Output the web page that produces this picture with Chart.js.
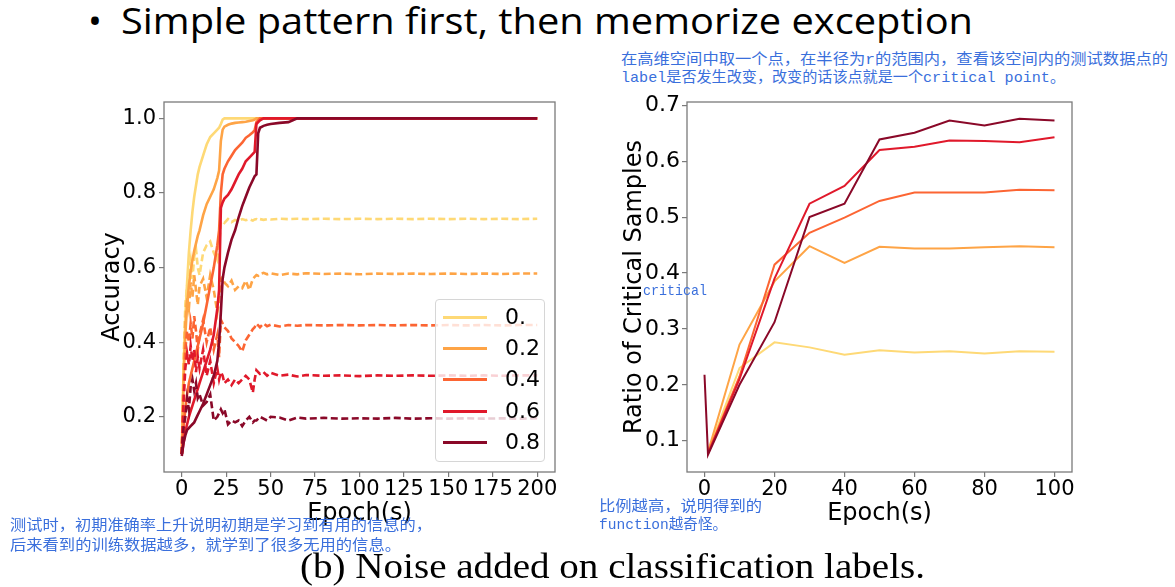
<!DOCTYPE html>
<html>
<head>
<meta charset="utf-8">
<script src="https://cdn.jsdelivr.net/npm/chart.js@4.4.0/dist/chart.umd.min.js"></script>
<style>
  body { margin: 0; width: 1175px; height: 587px; background: #fff; position: relative; overflow: hidden; }
  .t { position: absolute; white-space: nowrap; transform-origin: 0 50%; line-height: 1; }
  .head { font-family: "Open Sans", sans-serif; font-size: 37px; color: #000; }
  .cap { font-family: "Liberation Serif", serif; font-size: 36px; color: #000; }
  .note { font-family: "Liberation Mono", "Noto Sans CJK SC", monospace; font-size: 15px; color: #3a6fdc; }
  canvas { position: absolute; }
  #legend { position: absolute; left: 435px; top: 299px; width: 110px; height: 163px; box-sizing: border-box;
            border: 1px solid #d6d6d6; border-radius: 4px; background: rgba(255,255,255,0.8); }
  .lrow { position: absolute; left: 0; width: 108px; height: 30px; }
  .lline { position: absolute; left: 7px; top: 14px; width: 44px; height: 3px; }
  .ltext { position: absolute; left: 69px; top: 0; font: 22px "DejaVu Sans"; line-height: 30px; color: #000; }
</style>
</head>
<body>
<div class="t head" style="left:88px;top:1px">•</div>
<div class="t head" style="left:121px;top:1px" data-w="852">Simple pattern first, then memorize exception</div>

<div class="t note" style="left:621px;top:53px" data-w="547">在高维空间中取一个点，在半径为r的范围内，查看该空间内的测试数据点的</div>
<div class="t note" style="left:621px;top:71px" data-w="444">label是否发生改变，改变的话该点就是一个critical point。</div>

<canvas id="accChart" width="480" height="440" style="left:90px;top:92px"></canvas>
<canvas id="critChart" width="490" height="440" style="left:600px;top:92px"></canvas>
<div id="legend"></div>

<div class="t note" style="left:643px;top:284px" data-w="64">critical</div>
<div class="t note" style="left:599px;top:500px" data-w="163">比例越高，说明得到的</div>
<div class="t note" style="left:599px;top:518px" data-w="128">function越奇怪。</div>
<div class="t note" style="left:10px;top:519px" data-w="422">测试时，初期准确率上升说明初期是学习到有用的信息的，</div>
<div class="t note" style="left:10px;top:539px" data-w="391">后来看到的训练数据越多，就学到了很多无用的信息。</div>
<div class="t cap" style="left:300px;top:548px" data-w="625">(b) Noise added on classification labels.</div>

<script>
// left panel: accuracy per epoch (solid = train, dashed = test)
const accEpochs = [0,1,2,3,4,5,6,7,8,9,10,12,14,16,18,20,21,22,23,24,26,28,30,32,34,36,38,40,41,42,43,44,46,48,50,55,60,65,70,80,90,100,110,120,130,140,150,160,170,180,190,200];

const trainAcc0 = [0.10,0.33,0.47,0.56,0.64,0.70,0.75,0.79,0.82,0.85,0.87,0.90,0.93,0.95,0.96,0.97,0.975,0.985,0.997,1.0,1.0,1.0,1.0,1.0,1.0,1.0,1.0,1.0,1.0,1.0,1.0,1.0,1.0,1.0,1.0,1.0,1.0,1.0,1.0,1.0,1.0,1.0,1.0,1.0,1.0,1.0,1.0,1.0,1.0,1.0,1.0,1.0];
const trainAcc2 = [0.10,0.30,0.42,0.50,0.55,0.59,0.62,0.645,0.665,0.685,0.70,0.74,0.77,0.79,0.81,0.84,0.86,0.94,0.97,0.978,0.983,0.986,0.988,0.989,0.99,0.991,0.993,0.995,0.997,1.0,1.0,1.0,1.0,1.0,1.0,1.0,1.0,1.0,1.0,1.0,1.0,1.0,1.0,1.0,1.0,1.0,1.0,1.0,1.0,1.0,1.0,1.0];
const trainAcc4 = [0.10,0.17,0.22,0.26,0.29,0.31,0.33,0.35,0.37,0.39,0.41,0.45,0.50,0.55,0.60,0.66,0.70,0.80,0.85,0.865,0.885,0.90,0.915,0.925,0.935,0.948,0.955,0.963,0.968,0.99,0.995,1.0,1.0,1.0,1.0,1.0,1.0,1.0,1.0,1.0,1.0,1.0,1.0,1.0,1.0,1.0,1.0,1.0,1.0,1.0,1.0,1.0];
const trainAcc6 = [0.10,0.13,0.16,0.18,0.20,0.215,0.23,0.245,0.26,0.275,0.29,0.32,0.35,0.38,0.42,0.49,0.54,0.76,0.775,0.785,0.795,0.81,0.83,0.85,0.865,0.885,0.895,0.905,0.91,0.985,0.99,0.995,1.0,1.0,1.0,1.0,1.0,1.0,1.0,1.0,1.0,1.0,1.0,1.0,1.0,1.0,1.0,1.0,1.0,1.0,1.0,1.0];
const trainAcc8 = [0.095,0.13,0.15,0.165,0.17,0.175,0.18,0.185,0.195,0.205,0.215,0.235,0.26,0.285,0.31,0.35,0.40,0.48,0.57,0.60,0.64,0.675,0.70,0.735,0.765,0.79,0.815,0.835,0.845,0.85,0.96,0.975,0.98,0.983,0.985,0.988,0.99,1.0,1.0,1.0,1.0,1.0,1.0,1.0,1.0,1.0,1.0,1.0,1.0,1.0,1.0,1.0];

const testAcc0 = [0.10,0.35,0.50,0.55,0.59,0.62,0.57,0.63,0.65,0.60,0.58,0.64,0.66,0.67,0.64,0.62,0.66,0.72,0.725,0.72,0.73,0.722,0.728,0.725,0.73,0.727,0.73,0.726,0.729,0.73,0.727,0.73,0.728,0.73,0.729,0.731,0.73,0.731,0.73,0.731,0.73,0.731,0.73,0.731,0.73,0.731,0.73,0.731,0.73,0.731,0.73,0.731];
const testAcc2 = [0.10,0.30,0.45,0.52,0.49,0.56,0.52,0.58,0.54,0.50,0.55,0.57,0.52,0.58,0.54,0.48,0.51,0.57,0.575,0.56,0.55,0.565,0.54,0.55,0.545,0.565,0.54,0.57,0.575,0.58,0.578,0.583,0.586,0.582,0.585,0.58,0.584,0.582,0.585,0.583,0.584,0.582,0.584,0.583,0.584,0.583,0.584,0.583,0.584,0.583,0.584,0.584];
const testAcc4 = [0.10,0.25,0.38,0.43,0.40,0.45,0.41,0.47,0.43,0.38,0.42,0.46,0.40,0.44,0.38,0.42,0.36,0.46,0.45,0.44,0.43,0.41,0.40,0.39,0.375,0.405,0.42,0.435,0.44,0.45,0.445,0.44,0.45,0.443,0.447,0.442,0.446,0.444,0.446,0.445,0.446,0.445,0.446,0.445,0.446,0.445,0.446,0.445,0.446,0.445,0.446,0.446];
const testAcc6 = [0.10,0.24,0.33,0.37,0.34,0.39,0.35,0.38,0.32,0.36,0.33,0.38,0.31,0.35,0.29,0.33,0.30,0.32,0.31,0.29,0.30,0.285,0.30,0.29,0.30,0.31,0.30,0.265,0.30,0.325,0.32,0.315,0.32,0.31,0.318,0.31,0.313,0.308,0.312,0.31,0.311,0.309,0.311,0.31,0.311,0.31,0.311,0.31,0.311,0.31,0.311,0.311];
const testAcc8 = [0.10,0.17,0.20,0.25,0.22,0.28,0.30,0.27,0.29,0.25,0.26,0.23,0.24,0.26,0.19,0.20,0.21,0.22,0.21,0.22,0.18,0.19,0.185,0.19,0.175,0.19,0.20,0.185,0.19,0.19,0.195,0.20,0.195,0.19,0.20,0.198,0.19,0.198,0.195,0.197,0.195,0.196,0.195,0.197,0.195,0.196,0.195,0.196,0.195,0.196,0.195,0.196];

// right panel: ratio of critical samples
const critEpochs = [0,1,10,20,30,40,50,60,70,80,90,100];
const crit0 = [null,0.08,0.23,0.276,0.267,0.254,0.262,0.258,0.26,0.256,0.26,0.259];
const crit2 = [null,0.08,0.272,0.385,0.448,0.418,0.447,0.444,0.444,0.446,0.448,0.446];
const crit4 = [null,0.078,0.215,0.415,0.472,0.499,0.529,0.544,0.544,0.544,0.549,0.548];
const crit6 = [null,0.077,0.21,0.39,0.524,0.556,0.62,0.626,0.637,0.636,0.634,0.643];
const crit8 = [0.218,0.075,0.2,0.312,0.5,0.524,0.639,0.651,0.673,0.664,0.676,0.673];

const noiseLabels = ['0.', '0.2', '0.4', '0.6', '0.8'];
const noiseColors = ['#fed976', '#fea446', '#fc6533', '#e0192b', '#8a0828'];

const accXTicks = [0,25,50,75,100,125,150,175,200];
const accYTicks = [0.2,0.4,0.6,0.8,1.0];
const critXTicks = [0,20,40,60,80,100];
const critYTicks = [0.1,0.2,0.3,0.4,0.5,0.6,0.7];

const trainAcc = [trainAcc0, trainAcc2, trainAcc4, trainAcc6, trainAcc8];
const testAcc = [testAcc0, testAcc2, testAcc4, testAcc6, testAcc8];
const crit = [crit0, crit2, crit4, crit6, crit8];

function pairs(xs, ys) {
  return xs.map((x, i) => ({ x: x, y: ys[i] })).filter(p => p.y !== null);
}

// box around the plot area, like matplotlib spines
const frame = {
  id: 'frame',
  afterDraw(chart) {
    const a = chart.chartArea;
    const ctx = chart.ctx;
    ctx.save();
    ctx.strokeStyle = '#7a7a7a';
    ctx.lineWidth = 1.3;
    ctx.strokeRect(a.left, a.top, a.right - a.left, a.bottom - a.top);
    ctx.restore();
  }
};

function axis(ticks, min, max, fmt, title, size, tickPad, pad, opts) {
  return Object.assign({
    type: 'linear',
    min: min,
    max: max,
    afterBuildTicks: s => { s.ticks = ticks.map(v => ({ value: v })); },
    ticks: { color: '#000', font: { family: 'DejaVu Sans', size: size }, padding: tickPad, callback: fmt, maxRotation: 0, autoSkip: false },
    grid: { drawOnChartArea: false, tickLength: 5, color: '#7a7a7a', lineWidth: 1.2 },
    border: { display: false },
    title: { display: true, text: title, color: '#000', font: { family: 'DejaVu Sans', size: 24 }, padding: pad }
  }, opts);
}

// fixed axis boxes so the plot areas land where the slide has them
function fixX(h) {
  return s => { s.height = h; s.paddingLeft = 0; s.paddingRight = 0; };
}
function fixY(w) {
  return s => { s.width = w; s.paddingTop = 0; s.paddingBottom = 0; };
}

let accSets = [];
let k = 0;
for (let i = 0; i < 5; i++) {
  accSets.push({ label: noiseLabels[i], data: pairs(accEpochs, trainAcc[i]), borderColor: noiseColors[i],
                 borderWidth: 2.6, order: 100 - k++ });
  accSets.push({ label: noiseLabels[i] + ' test', data: pairs(accEpochs, testAcc[i]), borderColor: noiseColors[i],
                 borderWidth: 2.6, borderDash: [7, 3.5], order: 100 - k++ });
}

new Chart(document.getElementById('accChart'), {
  type: 'line',
  data: { datasets: accSets },
  options: {
    responsive: false,
    animation: false,
    layout: { padding: { top: 10, right: 15, left: 0, bottom: 0 } },
    plugins: { legend: { display: false }, tooltip: { enabled: false } },
    elements: { point: { radius: 0 }, line: { tension: 0 } },
    scales: {
      x: axis(accXTicks, -10, 210, v => String(v), 'Epoch(s)', 21, 0, { top: 0, bottom: 4 },
              { afterFit: fixX(60) }),
      y: axis(accYTicks, 0.052, 1.044, v => v.toFixed(1), 'Accuracy', 21, 3, { top: 8, bottom: 0 },
              { afterFit: fixY(74) })
    }
  },
  plugins: [frame]
});

let critSets = crit.map((c, i) => ({
  label: noiseLabels[i], data: pairs(critEpochs, c), borderColor: noiseColors[i], borderWidth: 2, order: 10 - i
}));

new Chart(document.getElementById('critChart'), {
  type: 'line',
  data: { datasets: critSets },
  options: {
    responsive: false,
    animation: false,
    layout: { padding: { top: 10, right: 18, left: 0, bottom: 0 } },
    plugins: { legend: { display: false }, tooltip: { enabled: false } },
    elements: { point: { radius: 0 }, line: { tension: 0 } },
    scales: {
      x: axis(critXTicks, -5, 105, v => String(v), 'Epoch(s)', 21, 0, { top: 0, bottom: 4 },
              { afterFit: fixX(60) }),
      y: axis(critYTicks, 0.044, 0.706, v => v.toFixed(1), 'Ratio of Critical Samples', 22, 2, { top: 20, bottom: 0 },
              { afterFit: fixY(87) })
    }
  },
  plugins: [frame]
});

// legend for the left panel
const legendBox = document.getElementById('legend');
noiseLabels.forEach((lab, i) => {
  const row = document.createElement('div');
  row.className = 'lrow';
  row.style.top = (2 + i * 31.2) + 'px';
  row.innerHTML = '<span class="lline" style="background:' + noiseColors[i] + '"></span><span class="ltext">' + lab + '</span>';
  legendBox.appendChild(row);
});

// squeeze text blocks to the widths seen in the slide
document.querySelectorAll('[data-w]').forEach(el => {
  const w = el.getBoundingClientRect().width;
  el.style.transform = 'scaleX(' + (el.dataset.w / w) + ')';
});
</script>
</body>
</html>
